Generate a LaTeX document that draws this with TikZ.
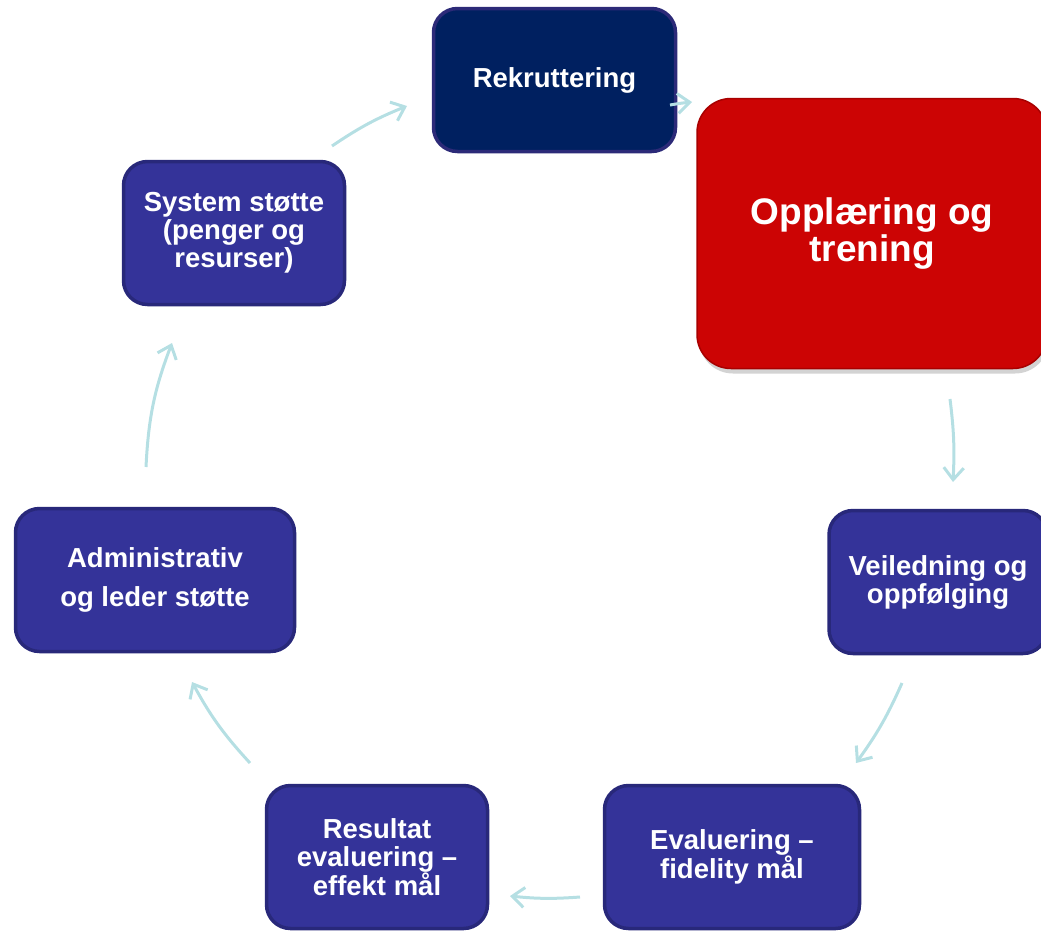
\documentclass[tikz,border=0pt]{standalone}
\usepackage{fontspec}
\setmainfont{Liberation Sans}
\usetikzlibrary{arrows.meta,shadows}
\definecolor{boxblue}{HTML}{343399}
\definecolor{boxedge}{HTML}{28287A}
\definecolor{navyfill}{HTML}{002060}
\definecolor{navyedge}{HTML}{2C2A78}
\definecolor{redfill}{HTML}{CC0404}
\definecolor{rededge}{HTML}{A80000}
\definecolor{flowcol}{HTML}{B5DFE3}
\begin{document}
\begin{tikzpicture}[x=1pt,y=-1pt,
  cyclebox/.style={rectangle, rounded corners=24pt, fill=boxblue, draw=boxedge,
    line width=3.5pt, text=white, align=center, inner sep=0pt,
    font=\fontsize{27.5}{28}\selectfont\bfseries},
  navybox/.style={cyclebox, fill=navyfill, draw=navyedge},
  redbox/.style={cyclebox, rounded corners=34pt, fill=redfill, draw=rededge,
    line width=1.5pt, font=\fontsize{37}{36.5}\selectfont\bfseries,
    drop shadow={shadow xshift=2pt, shadow yshift=-5pt, opacity=.35}},
  flow/.style={draw=flowcol, line width=3pt,
    -{Straight Barb[length=12pt,width=20pt]}}]
\useasboundingbox (0,0) rectangle (1041,930);
\clip (0,0) rectangle (1041,930);
% boxes of the cycle
\node[navybox, minimum width=242, minimum height=143] (rekrut) at (554.5,80) {Rekruttering};
\node[redbox, minimum width=350, minimum height=270] (oppl) at (872,233.5) {Opplæring og\\trening};
\node[cyclebox, minimum width=218, minimum height=143] (veil) at (938,582) {Veiledning og\\oppfølging};
\node[cyclebox, minimum width=255, minimum height=143] (evalf) at (732,857) {Evaluering –\\fidelity mål};
\node[cyclebox, minimum width=221, minimum height=143] (result) at (377,857) {Resultat\\evaluering –\\effekt mål};
\node[cyclebox, minimum width=279, minimum height=143] (admin) at (155,580) {Administrativ\\[11pt]og leder støtte};
\node[cyclebox, minimum width=221, minimum height=143] (sys) at (234,233) {System støtte\\(penger og\\resurser)};
% arrow ends
\coordinate (f1a) at (332,146); \coordinate (f1b) at (407,106);
\coordinate (f2a) at (670,105); \coordinate (f2b) at (692,102);
\coordinate (f3a) at (950,399); \coordinate (f3b) at (953,482);
\coordinate (f4a) at (902,683); \coordinate (f4b) at (856,763);
\coordinate (f5a) at (580,897); \coordinate (f5b) at (510,896);
\coordinate (f6a) at (250,763); \coordinate (f6b) at (192,682);
\coordinate (f7a) at (146,467); \coordinate (f7b) at (172,343);
\draw[flow] (f1a) to[bend left=6] (f1b);
\draw[flow] (f2a) to[bend left=2] (f2b);
\draw[flow] (f3a) to[bend left=5] (f3b);
\draw[flow] (f4a) to[bend left=6] (f4b);
\draw[flow] (f5a) to[bend left=5] (f5b);
\draw[flow] (f6a) to[bend left=7] (f6b);
\draw[flow] (f7a) to[bend left=9] (f7b);
\end{tikzpicture}
\end{document}
